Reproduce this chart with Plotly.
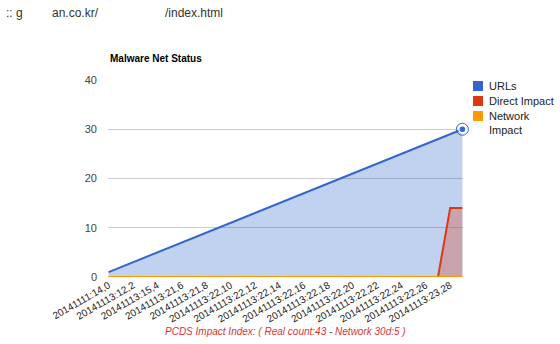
import plotly.graph_objects as go

categories = [
    "20141111:14,0", "20141112:10,1", "20141113:12,2", "20141113:14,3",
    "20141113:15,4", "20141113:18,5", "20141113:21,6", "20141113:21,7",
    "20141113:21,8", "20141113:22,9", "20141113:22,10", "20141113:22,11",
    "20141113:22,12", "20141113:22,13", "20141113:22,14", "20141113:22,15",
    "20141113:22,16", "20141113:22,17", "20141113:22,18", "20141113:22,19",
    "20141113:22,20", "20141113:22,21", "20141113:22,22", "20141113:22,23",
    "20141113:22,24", "20141113:22,25", "20141113:22,26", "20141113:23,27",
    "20141113:23,28", "20141113:23,29",
]
urls = [1, 2, 3, 4, 5, 6, 7, 8, 9, 10, 11, 12, 13, 14, 15, 16, 17, 18, 19, 20,
        21, 22, 23, 24, 25, 26, 27, 28, 29, 30]
direct_impact = [0, 0, 0, 0, 0, 0, 0, 0, 0, 0, 0, 0, 0, 0, 0, 0, 0, 0, 0, 0,
                 0, 0, 0, 0, 0, 0, 0, 0, 14, 14]
network_impact = [0] * 30
tick_labels = categories[::2]
yticks = [0, 10, 20, 30, 40]
legend_names = ["URLs", "Direct Impact", "Network<br>Impact"]

BLUE = "#3366cc"
RED = "#dc3912"
ORANGE = "#ff9900"
colors = [BLUE, RED, ORANGE]

fig = go.Figure()
fig.add_trace(go.Scatter(
    x=categories, y=urls, mode="lines", line=dict(color=BLUE, width=2),
    fill="tozeroy", fillcolor="rgba(51,102,204,0.3)", showlegend=False))
fig.add_trace(go.Scatter(
    x=categories, y=direct_impact, mode="lines", line=dict(color=RED, width=2),
    fill="tozeroy", fillcolor="rgba(220,57,18,0.3)", showlegend=False))
fig.add_trace(go.Scatter(
    x=categories, y=network_impact, mode="lines", line=dict(color=ORANGE, width=2),
    fill="tozeroy", fillcolor="rgba(255,153,0,0.3)", showlegend=False))
# highlighted last point
fig.add_trace(go.Scatter(
    x=[categories[-1]], y=[urls[-1]], mode="markers",
    marker=dict(color=BLUE, size=7, line=dict(color="white", width=1.5)),
    showlegend=False, cliponaxis=False))
fig.add_trace(go.Scatter(
    x=[categories[-1]], y=[urls[-1]], mode="markers",
    marker=dict(color="rgba(0,0,0,0)", size=12, line=dict(color=BLUE, width=1)),
    showlegend=False, cliponaxis=False))

# manual legend (Google-Charts style)
PLOT_L, PLOT_W, PLOT_B, PLOT_H = 108, 355, 277, 197
def px_x(p):
    return (p - PLOT_L) / PLOT_W
def px_y(p):
    return (PLOT_B - p) / PLOT_H

shapes = []
annotations = []
legend_rows = [86, 101, 116]
for name, col, row in zip(legend_names, colors, legend_rows):
    shapes.append(dict(type="rect", xref="paper", yref="paper",
                       x0=px_x(473), x1=px_x(483), y0=px_y(row + 5), y1=px_y(row - 5),
                       fillcolor=col, line=dict(width=0)))
    annotations.append(dict(text=name, xref="paper", yref="paper",
                            x=px_x(487), y=px_y(row - 8), xanchor="left", yanchor="top",
                            align="left", showarrow=False,
                            font=dict(size=11, color="#222")))

annotations += [
    dict(text="<b>Malware Net Status</b>", xref="paper", yref="paper",
         x=0, y=px_y(58), xanchor="left", yanchor="middle", showarrow=False,
         font=dict(size=10, color="#000")),
    dict(text=":: g", xref="paper", yref="paper", x=px_x(4), y=px_y(13),
         xanchor="left", yanchor="middle", showarrow=False,
         font=dict(size=12, color="#333")),
    dict(text="an.co.kr/", xref="paper", yref="paper", x=px_x(50), y=px_y(13),
         xanchor="left", yanchor="middle", showarrow=False,
         font=dict(size=12, color="#333")),
    dict(text="/index.html", xref="paper", yref="paper", x=px_x(163), y=px_y(13),
         xanchor="left", yanchor="middle", showarrow=False,
         font=dict(size=12, color="#333")),
    dict(text="<i>PCDS Impact Index: ( Real count:43 - Network 30d:5 )</i>",
         xref="paper", yref="paper", x=px_x(285), y=px_y(331), xanchor="center",
         yanchor="middle", showarrow=False,
         font=dict(size=10, color="#dd3333")),
]

fig.update_layout(
    width=560, height=344,
    margin=dict(l=108, r=97, t=80, b=67, autoexpand=False),
    paper_bgcolor="white", plot_bgcolor="white",
    font=dict(family="Arial, Liberation Sans, sans-serif", size=11, color="#444"),
    showlegend=False,
    xaxis=dict(type="category", tickmode="array", tickvals=tick_labels,
               ticktext=tick_labels, tickangle=-30, showgrid=False,
               zeroline=False, showline=False, ticks="", automargin=False,
               tickfont=dict(size=10, color="#222"), range=[-0.05, 29.05]),
    yaxis=dict(range=[0, 40], tickvals=yticks, showgrid=True, gridcolor="#cccccc",
               zeroline=False, showline=False, ticks="", ticklabelstandoff=10,
               automargin=False, tickfont=dict(size=11, color="#444")),
    shapes=shapes,
    annotations=annotations,
)

fig.write_html("out.html")
